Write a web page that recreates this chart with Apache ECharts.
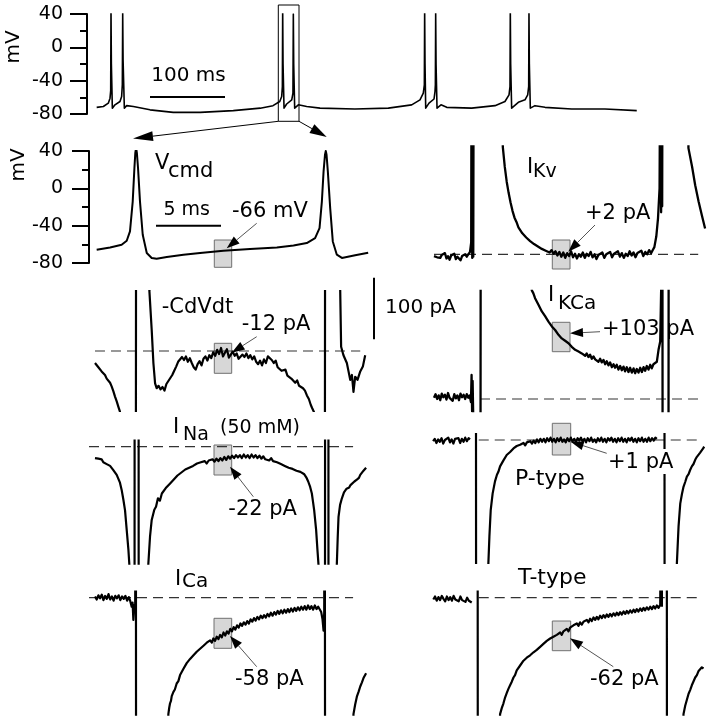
<!DOCTYPE html>
<html>
<head>
<meta charset="utf-8">
<script src="https://cdn.jsdelivr.net/npm/echarts@6.0.0/dist/echarts.min.js"></script>
<style>
  html, body { margin: 0; padding: 0; background: #fff; }
  #chart { width: 710px; height: 719px; }
</style>
</head>
<body>
<div id="chart"></div>
<script>
// ---- data: [time (ms), value] ----
// top: whole recording, mV
const topTrace = [[12.9,-72],[21.8,-71],[28.4,-67],[30.7,-61],[31.6,-52],[32,45],[32.5,-20],[33.8,-73],[37.3,-69],[44,-65],[46.2,-59],[47.1,-45],[47.6,41],[48.1,-15],[49.8,-73],[52.9,-70],[61.8,-71],[84,-75],[115,-78],[151,-78],[195,-76],[231,-73],[248,-70],[257,-65],[259.6,-59],[260.5,-47],[260.9,45],[261.4,-20],[262.7,-73],[266.2,-68],[273,-63],[274.6,-55],[275.1,40],[275.6,-20],[276.9,-73],[281.8,-69],[292.9,-71],[310.7,-73],[357.3,-74],[401.8,-73],[432.9,-69],[444,-63],[448.4,-55],[449.8,-45],[450.2,45],[450.7,-20],[451.6,-73],[456,-67],[462.7,-62],[464,-53],[464.5,-45],[464.9,41],[465.4,-20],[466.7,-73],[472,-69],[479.6,-72],[512.9,-73],[544,-70],[557.3,-65],[562.7,-57],[564,-47],[564.4,45],[564.9,-20],[566.2,-73],[575.1,-66],[584,-63],[587.6,-57],[588.9,-47],[589.3,42],[589.8,-20],[591.1,-73],[597.3,-70],[610.7,-72],[646.2,-74],[690.7,-74],[733,-76]];

// command voltage, mV
const vcmdTrace = [[0.59,-65.8],[1.62,-63.3],[2.51,-60.4],[2.9,-56.2],[3.15,-46.2],[3.36,-14.2],[3.49,21.5],[3.56,38],[3.62,43.5],[3.68,38],[3.77,21.5],[3.92,-14.2],[4.13,-49.7],[4.44,-69.3],[4.82,-74.6],[5.2,-75.4],[5.98,-73.6],[7.26,-71.1],[8.54,-69.3],[10.33,-66.8],[12.38,-65],[14.44,-63.3],[15.72,-61.2],[16.74,-58.6],[17.38,-53.3],[17.72,-42.6],[17.9,-14.2],[18.03,17.9],[18.14,36],[18.2,40],[18.26,36],[18.36,17.9],[18.54,-21.2],[18.74,-56.9],[19.05,-71.1],[19.44,-74.6],[20.46,-71.8],[21.46,-69]];

// currents, pA ('-' = gap, values beyond the panel are clipped)
const ikvTrace = [[0.56,-3],[0.68,-1],[0.8,-5],[0.92,-2],[1.04,-6],[1.16,-1],[1.28,-4],[1.4,2],[1.52,-7],[1.64,-3],[1.76,-9],[1.88,-2],[2.0,-5],[2.12,1],[2.24,-8],[2.36,-4],[2.48,-2],[2.6,-10],[2.72,-3],[2.84,-6],[2.96,0],[3.08,-4],[3.2,-2],[3.33,4],[3.42,20],[3.46,500],[3.5,-6],[3.54,500],[3.58,-4],[3.62,500],[5.8,500],[5.85,179],[6.0,146],[6.15,121],[6.3,102],[6.45,86],[6.6,72],[6.75,61],[6.9,54],[7.05,45],[7.2,42],[7.35,35],[7.5,34],[7.65,28],[7.8,29],[7.95,22],[8.1,24],[8.25,17],[8.4,19],[8.55,13],[8.7,15],[8.85,9],[9.0,12],[9.15,6],[9.3,9],[9.45,3],[9.6,7],[9.75,1],[9.9,5],[10.05,-2],[10.2,4],[10.35,-4],[10.5,3],[10.65,-6],[10.8,2],[10.95,-3],[11.1,5],[11.25,-5],[11.4,1],[11.55,-7],[11.7,0],[11.85,-4],[12.0,3],[12.15,-6],[12.3,1],[12.45,-3],[12.6,4],[12.75,-5],[12.9,0],[13.05,-8],[13.2,-1],[13.35,-4],[13.5,3],[13.65,-6],[13.8,0],[13.95,-3],[14.1,4],[14.25,-5],[14.4,1],[14.55,-2],[14.7,5],[14.85,-4],[15.0,2],[15.15,-6],[15.3,1],[15.45,-3],[15.6,5],[15.75,-2],[15.9,3],[16.05,-5],[16.2,2],[16.35,-1],[16.5,6],[16.65,-3],[16.8,4],[16.95,0],[17.1,7],[17.25,2],[17.4,8],[17.5,12],[17.65,30],[17.78,60],[17.9,110],[17.98,500],[18.02,70],[18.06,500],[18.1,80],[18.14,500],[20.05,500],[20.12,177],[20.4,146],[20.64,115],[20.9,88],[21.15,65],[21.4,43]];

const cdvdtTrace = [[0.46,-20],[0.6,-23],[0.72,-27],[0.85,-29],[0.97,-34],[1.1,-36],[1.23,-40],[1.36,-46],[1.49,-48],[1.62,-53],[1.74,-59],[1.87,-67],[2.0,-76],[2.13,-84],[2.26,-93],[2.38,-101],[2.5,-300],[3.6,-300],[3.62,300],[4.6,300],[4.64,101],[4.82,35],[4.95,-20],[5.08,-54],[5.2,-62],[5.35,-58],[5.5,-64],[5.65,-60],[5.8,-66],[5.95,-55],[6.1,-50],[6.25,-52],[6.4,-40],[6.55,-33],[6.7,-26],[6.85,-18],[7.0,-20],[7.15,-10],[7.3,-15],[7.45,-9],[7.6,-18],[7.75,-12],[7.9,-20],[8.05,-27],[8.2,-31],[8.35,-22],[8.5,-17],[8.65,-24],[8.8,-13],[8.95,-9],[9.1,-16],[9.25,-7],[9.4,-12],[9.55,-2],[9.7,-8],[9.85,2],[10.0,-5],[10.15,5],[10.3,-9],[10.45,-3],[10.6,3],[10.75,-11],[10.9,-6],[11.05,-1],[11.2,-8],[11.35,-4],[11.5,-13],[11.65,-15],[11.8,-6],[11.95,-10],[12.1,-4],[12.25,-12],[12.4,-7],[12.55,-14],[12.7,-9],[12.85,-18],[13.0,-22],[13.15,-16],[13.3,-24],[13.45,-14],[13.6,-20],[13.75,-9],[13.9,-7],[14.05,-15],[14.2,-20],[14.35,-16],[14.5,-27],[14.65,-25],[14.8,-33],[14.95,-36],[15.1,-31],[15.25,-41],[15.4,-38],[15.55,-46],[15.7,-44],[15.85,-53],[16.0,-49],[16.15,-58],[16.3,-55],[16.45,-62],[16.6,-66],[16.75,-74],[16.9,-80],[17.05,-90],[17.15,-95],[17.3,-102],[17.4,-300],[18.13,-300],[18.15,300],[19.2,300],[19.31,101],[19.38,7],[19.56,-7],[19.82,-20],[19.95,-34],[20.08,-48],[20.21,-40],[20.33,-68],[20.46,-43],[20.64,-48],[20.85,-34],[21.05,-26],[21.23,-7]];

const ikcaTrace = [[0.56,2],[0.68,8],[0.8,0],[0.92,6],[1.04,-2],[1.16,9],[1.28,3],[1.4,7],[1.52,-1],[1.64,10],[1.76,2],[1.88,5],[2.0,-3],[2.12,8],[2.24,1],[2.36,6],[2.48,-2],[2.6,9],[2.72,3],[2.84,7],[2.96,0],[3.08,8],[3.2,2],[3.3,6],[3.4,-5],[3.45,40],[3.49,-21],[3.53,30],[3.57,-21],[3.6,-300],[4.13,-300],[4.15,300],[8.0,300],[8.08,181],[8.2,176],[8.33,168],[8.46,166],[8.59,157],[8.72,155],[8.85,146],[8.97,145],[9.1,138],[9.23,137],[9.36,129],[9.49,130],[9.62,121],[9.75,122],[9.87,115],[10.0,116],[10.13,107],[10.26,110],[10.38,101],[10.51,104],[10.64,97],[10.77,99],[10.9,93],[11.02,95],[11.15,87],[11.28,90],[11.41,82],[11.54,85],[11.67,79],[11.8,82],[11.92,76],[12.05,79],[12.18,72],[12.3,76],[12.43,70],[12.56,74],[12.69,67],[12.82,71],[12.95,66],[13.08,69],[13.2,62],[13.33,67],[13.46,61],[13.59,65],[13.72,58],[13.84,63],[13.97,56],[14.1,61],[14.23,53],[14.36,58],[14.48,52],[14.61,57],[14.74,49],[14.87,55],[15.0,48],[15.13,54],[15.25,46],[15.38,53],[15.51,45],[15.64,52],[15.77,44],[15.9,51],[16.02,43],[16.15,50],[16.28,44],[16.41,52],[16.54,45],[16.67,53],[16.79,47],[16.92,55],[17.05,49],[17.18,57],[17.3,51],[17.43,58],[17.56,55],[17.69,62],[17.82,82],[17.95,96],[18.12,300],[18.14,-300],[18.58,-300],[18.6,300],[21.6,300]];

const inaTrace = [[0.46,-19],[0.6,-22],[0.72,-20],[0.85,-23],[0.97,-21],[1.1,-26],[1.23,-24],[1.36,-29],[1.49,-27],[1.62,-32],[1.74,-33],[1.87,-39],[2.0,-42],[2.13,-47],[2.26,-50],[2.38,-60],[2.51,-72],[2.64,-88],[2.77,-106],[2.9,-139],[3.03,-172],[3.1,-196],[3.2,-400],[3.5,-400],[3.51,400],[3.81,400],[3.82,-400],[4.5,-400],[4.56,-196],[4.69,-150],[4.82,-122],[5.02,-105],[5.15,-100],[5.3,-86],[5.45,-90],[5.6,-78],[5.75,-80],[5.9,-69],[6.05,-71],[6.2,-62],[6.35,-64],[6.5,-55],[6.65,-57],[6.8,-48],[6.95,-50],[7.1,-43],[7.25,-45],[7.4,-38],[7.55,-41],[7.7,-35],[7.85,-37],[8.0,-32],[8.15,-35],[8.3,-28],[8.45,-31],[8.6,-26],[8.75,-29],[8.9,-24],[9.05,-28],[9.2,-23],[9.35,-26],[9.5,-21],[9.65,-25],[9.8,-20],[9.95,-24],[10.1,-19],[10.25,-23],[10.4,-17],[10.55,-22],[10.7,-16],[10.85,-20],[11.0,-15],[11.15,-19],[11.3,-14],[11.45,-18],[11.6,-14],[11.75,-19],[11.9,-13],[12.05,-18],[12.2,-14],[12.35,-19],[12.5,-13],[12.65,-18],[12.8,-14],[12.95,-19],[13.1,-15],[13.25,-20],[13.4,-16],[13.55,-21],[13.7,-18],[13.85,-23],[14.0,-19],[14.15,-24],[14.3,-22],[14.45,-26],[14.6,-24],[14.75,-29],[14.9,-27],[15.05,-32],[15.2,-31],[15.35,-35],[15.5,-34],[15.65,-37],[15.8,-37],[15.95,-40],[16.1,-40],[16.25,-42],[16.4,-44],[16.55,-46],[16.7,-51],[16.85,-58],[17.0,-67],[17.13,-78],[17.22,-92],[17.31,-106],[17.46,-139],[17.56,-172],[17.64,-196],[17.8,-400],[18.14,-400],[18.15,400],[18.4,400],[18.41,-400],[19.0,-400],[19.05,-196],[19.12,-150],[19.18,-117],[19.3,-97],[19.44,-86],[19.6,-76],[19.8,-70],[20.0,-68],[20.1,-64],[20.25,-62],[20.4,-58],[20.59,-55],[20.75,-52],[20.85,-47],[21.0,-45],[21.1,-40],[21.2,-41],[21.3,-35]];

const ptypeTrace = [[0.49,-2],[0.62,2],[0.75,-5],[0.88,1],[1.01,-3],[1.14,3],[1.27,-6],[1.4,0],[1.53,-2],[1.66,4],[1.79,-4],[1.92,1],[2.05,-6],[2.18,2],[2.31,-1],[2.44,3],[2.57,-5],[2.7,2],[2.83,-3],[2.96,4],[3.09,-2],[3.22,3],[3.33,1],[3.5,'-'],[3.78,400],[3.8,-400],[4.7,-400],[4.74,-206],[4.82,-161],[4.92,-117],[5.07,-89],[5.25,-69],[5.4,-58],[5.51,-53],[5.64,-44],[5.77,-39],[5.9,-34],[6.02,-31],[6.15,-25],[6.28,-26],[6.41,-20],[6.54,-21],[6.67,-14],[6.79,-16],[6.92,-10],[7.05,-13],[7.18,-8],[7.31,-11],[7.44,-5],[7.57,-9],[7.7,-4],[7.83,-7],[7.96,-2],[8.09,-6],[8.22,-1],[8.35,-5],[8.48,1],[8.61,-4],[8.74,2],[8.87,-3],[9.0,2],[9.13,-4],[9.26,3],[9.39,-2],[9.52,4],[9.65,-3],[9.78,2],[9.91,-4],[10.04,3],[10.17,-2],[10.3,4],[10.43,-3],[10.56,1],[10.69,-4],[10.82,3],[10.95,-2],[11.08,4],[11.21,-3],[11.34,2],[11.47,-4],[11.6,3],[11.73,-1],[11.86,4],[11.99,-3],[12.12,2],[12.25,-4],[12.38,3],[12.51,-2],[12.64,4],[12.77,-3],[12.9,1],[13.03,-4],[13.16,3],[13.29,-2],[13.42,4],[13.55,-3],[13.68,2],[13.81,-4],[13.94,3],[14.07,-1],[14.2,4],[14.33,-3],[14.46,2],[14.59,-4],[14.72,3],[14.85,-2],[14.98,4],[15.11,-3],[15.24,2],[15.37,-4],[15.5,3],[15.63,-1],[15.76,4],[15.89,-3],[16.02,2],[16.15,-4],[16.28,3],[16.41,-2],[16.54,4],[16.67,-3],[16.8,2],[16.93,-3],[17.06,4],[17.19,-2],[17.32,3],[17.45,-1],[17.58,4],[17.69,2],[17.9,'-'],[18.27,400],[18.29,-400],[19.2,-400],[19.23,-206],[19.36,-144],[19.49,-106],[19.62,-90],[19.74,-78],[19.87,-70],[20.0,-61],[20.13,-57],[20.25,-50],[20.38,-44],[20.51,-40],[20.64,-33],[20.77,-28],[20.9,-25],[21.02,-21],[21.15,-19],[21.25,-14],[21.33,-11]];

const icaTrace = [[0.46,2],[0.59,-3],[0.72,4],[0.85,-1],[0.98,5],[1.11,-4],[1.24,3],[1.37,-2],[1.5,6],[1.63,-3],[1.76,2],[1.89,-5],[2.02,3],[2.15,-1],[2.28,4],[2.41,-4],[2.54,2],[2.67,-2],[2.8,3],[2.93,-5],[3.06,1],[3.15,-4],[3.28,-15],[3.35,-8],[3.41,-37],[3.48,-12],[3.55,-20],[3.6,400],[3.62,-400],[6.0,-400],[6.1,-194],[6.17,-183],[6.23,-176],[6.3,-172],[6.36,-164],[6.43,-166],[6.49,-157],[6.6,-153],[6.74,-143],[6.87,-139],[7.0,-129],[7.12,-128],[7.25,-119],[7.38,-117],[7.51,-109],[7.64,-111],[7.77,-102],[7.9,-104],[8.03,-96],[8.15,-98],[8.28,-90],[8.41,-93],[8.54,-85],[8.67,-88],[8.8,-80],[8.93,-83],[9.05,-75],[9.18,-78],[9.31,-71],[9.44,-75],[9.56,-68],[9.69,-72],[9.82,-65],[9.95,-69],[10.08,-62],[10.21,-66],[10.34,-58],[10.47,-63],[10.6,-56],[10.73,-60],[10.86,-52],[10.99,-56],[11.12,-49],[11.25,-53],[11.38,-46],[11.51,-50],[11.64,-43],[11.77,-47],[11.9,-41],[12.03,-45],[12.16,-39],[12.29,-43],[12.42,-36],[12.55,-40],[12.68,-34],[12.81,-38],[12.94,-32],[13.07,-36],[13.2,-30],[13.33,-34],[13.46,-29],[13.59,-33],[13.72,-27],[13.85,-31],[13.98,-25],[14.11,-30],[14.24,-24],[14.37,-28],[14.5,-22],[14.63,-27],[14.76,-21],[14.89,-26],[15.02,-20],[15.15,-25],[15.28,-19],[15.41,-24],[15.54,-18],[15.67,-23],[15.8,-17],[15.93,-22],[16.06,-16],[16.19,-21],[16.32,-15],[16.45,-20],[16.58,-14],[16.71,-20],[16.84,-13],[16.97,-19],[17.1,-14],[17.23,-20],[17.36,-13],[17.49,-19],[17.62,-15],[17.75,-20],[17.85,-24],[17.95,-36],[18.03,-55],[18.08,-25],[18.12,400],[18.15,-400],[20.2,-400],[20.33,-194],[20.46,-178],[20.59,-165],[20.72,-157],[20.85,-148],[20.98,-141],[21.1,-134],[21.3,-126]];

const ttypeTrace = [[0.51,-3],[0.64,2],[0.77,-5],[0.9,1],[1.03,-4],[1.16,3],[1.29,-2],[1.42,-6],[1.55,2],[1.68,-4],[1.81,1],[1.94,-5],[2.07,3],[2.2,-3],[2.33,0],[2.46,-6],[2.59,2],[2.72,-4],[2.85,-1],[2.98,-7],[3.11,0],[3.24,-5],[3.36,-3],[3.46,-8],[3.6,'-'],[3.91,400],[3.93,-400],[5.5,-400],[5.64,-194],[5.77,-184],[5.9,-176],[6.03,-166],[6.15,-159],[6.28,-152],[6.41,-146],[6.54,-140],[6.67,-133],[6.79,-129],[6.92,-121],[7.05,-120],[7.18,-113],[7.31,-111],[7.44,-105],[7.56,-107],[7.69,-100],[7.82,-101],[7.95,-96],[8.08,-97],[8.21,-91],[8.33,-93],[8.46,-87],[8.59,-88],[8.72,-82],[8.85,-84],[8.97,-77],[9.1,-79],[9.23,-72],[9.36,-75],[9.49,-68],[9.62,-71],[9.74,-65],[9.87,-68],[10.0,-62],[10.13,-65],[10.26,-58],[10.38,-62],[10.51,-56],[10.64,-59],[10.77,-52],[10.9,-56],[11.02,-50],[11.15,-53],[11.28,-46],[11.41,-49],[11.54,-43],[11.67,-47],[11.79,-41],[11.92,-45],[12.05,-40],[12.18,-43],[12.31,-37],[12.44,-41],[12.56,-35],[12.69,-39],[12.82,-33],[12.95,-37],[13.08,-32],[13.2,-36],[13.33,-30],[13.46,-34],[13.59,-29],[13.72,-33],[13.84,-28],[13.97,-32],[14.1,-27],[14.23,-31],[14.36,-26],[14.49,-30],[14.61,-25],[14.74,-29],[14.87,-24],[15.0,-28],[15.13,-23],[15.26,-27],[15.38,-22],[15.51,-26],[15.64,-21],[15.77,-25],[15.9,-20],[16.02,-24],[16.15,-19],[16.28,-23],[16.41,-18],[16.54,-22],[16.67,-17],[16.79,-21],[16.92,-16],[17.05,-20],[17.18,-15],[17.31,-19],[17.44,-14],[17.56,-18],[17.69,-13],[17.82,-17],[17.95,-12],[18.02,-14],[18.05,400],[18.08,-15],[18.2,'-'],[18.45,400],[18.47,-400],[19.6,-400],[19.74,-194],[19.87,-180],[20.0,-170],[20.13,-160],[20.25,-154],[20.38,-146],[20.51,-143],[20.64,-133],[20.77,-129],[20.9,-122],[21.02,-120],[21.15,-116],[21.28,-118]];

// zero-current reference lines (time span, ms)
const ikvZero = [0.56, 20.87];
const cdvdtZero = [0.46, 20.85];
const ikcaZero = [4.1, 20.87];
const inaZero = [0, 20.3];
const ptypeZero = [4.0, 20.87];
const icaZero = [0, 20.3];
const ttypeZero = [4.0, 20.87];

// voltage axis ticks
const mvTicks = [-80, -40, 0, 40];

// ---- layout ----
const FONT = 'DejaVu Sans';
const panels = [
  { data: topTrace,   grid: { left: 87,    top: 14,    width: 555, height: 100 }, x: [0, 740],  y: [-80, 40],   axis: true, lw: 1.6 },
  { data: vcmdTrace,  grid: { left: 89,    top: 151,   width: 281, height: 112 }, x: [0, 21.6], y: [-80, 40],   axis: true, lw: 2 },
  { data: ikvTrace,   grid: { left: 426.7, top: 146.3, width: 281, height: 123 }, x: [0, 21.6], y: [-25, 180],  zero: ikvZero, lw: 2.3 },
  { data: cdvdtTrace, grid: { left: 89,    top: 291,   width: 281, height: 120 }, x: [0, 21.6], y: [-100, 100], zero: cdvdtZero, lw: 2.2 },
  { data: ikcaTrace,  grid: { left: 426.7, top: 291,   width: 281, height: 120 }, x: [0, 21.6], y: [-20, 180],  zero: ikcaZero, lw: 2.3 },
  { data: inaTrace,   grid: { left: 89,    top: 440.7, width: 281, height: 123 }, x: [0, 21.6], y: [-195, 10],  zero: inaZero, lw: 2.2 },
  { data: ptypeTrace, grid: { left: 426.7, top: 434,   width: 281, height: 129 }, x: [0, 21.6], y: [-205, 10],  zero: ptypeZero, lw: 2.2 },
  { data: icaTrace,   grid: { left: 89,    top: 591.7, width: 281, height: 123 }, x: [0, 21.6], y: [-195, 10],  zero: icaZero, lw: 2.2 },
  { data: ttypeTrace, grid: { left: 426.7, top: 591.7, width: 281, height: 123 }, x: [0, 21.6], y: [-195, 10],  zero: ttypeZero, lw: 2.2 }
];

const grids = [], xAxes = [], yAxes = [], series = [];
panels.forEach(function (p, i) {
  grids.push(Object.assign({ outerBoundsMode: 'none' }, p.grid));
  xAxes.push({ type: 'value', gridIndex: i, min: p.x[0], max: p.x[1], show: false });
  if (p.axis) {
    yAxes.push({
      type: 'value', gridIndex: i, min: mvTicks[0], max: mvTicks[mvTicks.length - 1],
      interval: mvTicks[1] - mvTicks[0],
      axisLine: { show: true, onZero: false, lineStyle: { color: '#000', width: 2 } },
      axisTick: { show: true, length: 17, lineStyle: { color: '#000', width: 2 } },
      minorTick: { show: true, splitNumber: 2, length: 7, lineStyle: { color: '#000', width: 2 } },
      axisLabel: { color: '#000', fontSize: 19, fontFamily: FONT, margin: i === 0 ? 24 : 26 },
      splitLine: { show: false }
    });
  } else {
    yAxes.push({ type: 'value', gridIndex: i, min: p.y[0], max: p.y[1], show: false, splitLine: { show: false } });
  }
  if (p.zero) {
    series.push({
      type: 'line', xAxisIndex: i, yAxisIndex: i, silent: true, symbol: 'none', z: 1,
      data: [[p.zero[0], 0], [p.zero[1], 0]],
      lineStyle: { color: '#333', width: 1.2, type: [10, 6] }
    });
  }
  series.push({
    type: 'line', xAxisIndex: i, yAxisIndex: i, silent: true, symbol: 'none', showSymbol: false,
    clip: true, connectNulls: false, z: 3,
    data: p.data,
    lineStyle: { color: '#000', width: p.lw, join: 'round' }
  });
});

// ---- annotations (pixel positions) ----
const g = [];
function txt(s, x, y, size, align) {
  g.push({ type: 'text', x: x, y: y, z: 20,
    style: { text: s, font: size + 'px "' + FONT + '"', fill: '#000', textAlign: align || 'left', textVerticalAlign: 'middle', verticalAlign: 'middle' } });
}
function box(x, y, w, h) {
  g.push({ type: 'rect', z: 1, shape: { x: x, y: y, width: w, height: h },
    style: { fill: '#d7d7d7', stroke: '#707070', lineWidth: 1 } });
}
function arrow(x1, y1, x2, y2, len, hw, color, lw) {
  const dx = x2 - x1, dy = y2 - y1, d = Math.sqrt(dx * dx + dy * dy);
  const ux = dx / d, uy = dy / d;
  const bx = x2 - ux * len, by = y2 - uy * len;
  g.push({ type: 'line', z: 15, shape: { x1: x1, y1: y1, x2: bx, y2: by }, style: { stroke: color, lineWidth: lw } });
  g.push({ type: 'polygon', z: 16, shape: { points: [[x2, y2], [bx - uy * hw, by + ux * hw], [bx + uy * hw, by - ux * hw]] },
    style: { fill: '#000' } });
}
function bar(x1, y1, x2, y2) {
  g.push({ type: 'line', z: 15, shape: { x1: x1, y1: y1, x2: x2, y2: y2 }, style: { stroke: '#000', lineWidth: 2 } });
}

// top panel
g.push({ type: 'rect', z: 5, shape: { x: 278.3, y: 5, width: 20.7, height: 116.3 }, style: { fill: 'none', stroke: '#000', lineWidth: 1 } });
arrow(278.3, 121.3, 133, 138.5, 20, 5, '#000', 1);
arrow(299, 121.3, 326.7, 137, 17, 5, '#000', 1);
bar(150, 97, 225, 97);
txt('100 ms', 188.5, 75.5, 20, 'center');
g.push({ type: 'text', x: 13.5, y: 47, rotation: Math.PI / 2, z: 20,
  style: { text: 'mV', font: '20px "' + FONT + '"', fill: '#000', textAlign: 'center', textVerticalAlign: 'middle', verticalAlign: 'middle' } });
g.push({ type: 'text', x: 19, y: 165, rotation: Math.PI / 2, z: 20,
  style: { text: 'mV', font: '20px "' + FONT + '"', fill: '#000', textAlign: 'center', textVerticalAlign: 'middle', verticalAlign: 'middle' } });

// Vcmd
txt('V', 155, 163.5, 21);
txt('cmd', 168, 172, 21);
bar(156, 225.7, 221, 225.7);
txt('5 ms', 186.7, 210.5, 19, 'center');
box(214.3, 240, 17.4, 27.3);
txt('-66 mV', 232, 211.5, 21);
arrow(256.7, 223.3, 226.7, 248.3, 13, 4.5, '#555', 1);

// IKv
txt('I', 527, 167.5, 21);
txt('Kv', 533, 172.5, 19);
box(552.3, 240, 17.7, 29);
txt('+2 pA', 585, 214, 21);
arrow(595, 225, 568.3, 251.7, 13, 4.5, '#555', 1);

// -CdVdt
txt('-CdVdt', 161.7, 307.5, 21);
box(214.3, 343.3, 17.4, 30);
txt('-12 pA', 241.7, 325, 21);
arrow(256.7, 336.7, 231.7, 352.7, 13, 4.5, '#555', 1);
bar(374, 277.7, 374, 339.3);
txt('100 pA', 385, 308, 20);

// IKCa
txt('I', 548, 296, 21);
txt('KCa', 558, 303.5, 20);
box(552.3, 322.3, 17.7, 29.4);
txt('+103 pA', 602, 329.5, 21);
arrow(600, 331.7, 570, 333.3, 13, 4.5, '#555', 1);

// INa
txt('I', 173, 427.5, 21);
txt('Na', 183, 435, 19);
txt('(50 mM)', 220, 428.5, 19);
box(214, 445, 17.7, 30);
txt('-22 pA', 228.3, 509.5, 21);
arrow(253.3, 496.7, 230, 466.7, 13, 4.5, '#555', 1);

// P-type
box(552.3, 423.3, 18.4, 31.7);
g.push({ type: 'rect', z: 10, shape: { x: 606, y: 449, width: 68, height: 25 }, style: { fill: '#fff' } });
txt('+1 pA', 608, 463, 21);
arrow(606.7, 453.3, 570.7, 441.7, 13, 4.5, '#555', 1);
txt('P-type', 515, 479, 22);

// ICa
txt('I', 175, 579.5, 21);
txt('Ca', 182, 581.5, 20);
box(214, 618.3, 17.7, 30);
txt('-58 pA', 235, 680, 21);
arrow(256.7, 666.7, 230, 636, 13, 4.5, '#555', 1);

// T-type
txt('T-type', 518, 578, 22);
box(552.3, 621, 18.4, 29.7);
txt('-62 pA', 590, 680, 21);
arrow(613.3, 666.7, 570, 638.3, 13, 4.5, '#555', 1);

const chart = echarts.init(document.getElementById('chart'), null, { renderer: 'canvas' });
chart.setOption({
  animation: false,
  backgroundColor: '#fff',
  grid: grids,
  xAxis: xAxes,
  yAxis: yAxes,
  series: series,
  graphic: { elements: g }
});
</script>
</body>
</html>
